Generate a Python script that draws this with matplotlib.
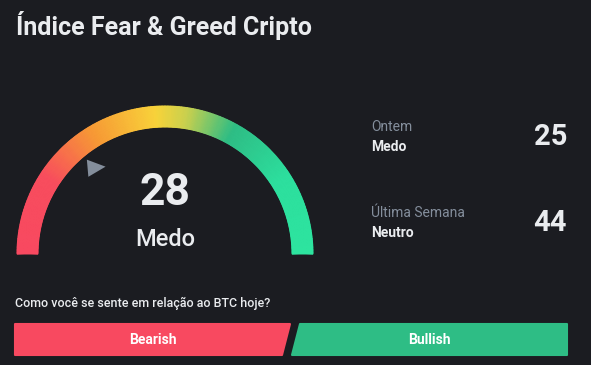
import numpy as np
import matplotlib
matplotlib.use('Agg')
import matplotlib.pyplot as plt
from matplotlib.colors import LinearSegmentedColormap
from matplotlib.patches import Polygon

# data
title = 'Índice Fear & Greed Cripto'
value_now = 28
label_now = 'Medo'
hist_titles = ['Ontem', 'Última Semana']
hist_labels = ['Medo', 'Neutro']
hist_values = [25, 44]
question = 'Como você se sente em relação ao BTC hoje?'
buttons = ['Bearish', 'Bullish']

bg = '#1b1c21'
white = '#eaecef'
gray = '#848e9c'
red = '#f84960'
green = '#2ebd85'

W, H = 591, 365
fig = plt.figure(figsize=(W / 100, H / 100), dpi=100)
fig.patch.set_facecolor(bg)
ax = fig.add_axes([0, 0, 1, 1])
ax.set_xlim(0, W)
ax.set_ylim(H, 0)
ax.axis('off')
ax.set_facecolor(bg)

font = 'Roboto'

ax.text(16, 25, title, color=white, fontsize=18, fontweight='bold',
        family=font, va='center', ha='left')

# gauge
cx, cy = 165, 254
r_out, r_in = 148, 127
cmap = LinearSegmentedColormap.from_list('fg', [
    (0.0, '#f84960'), (0.18, '#f84d5e'), (0.33, '#f79a35'),
    (0.48, '#f8d33a'), (0.55, '#c9d04f'), (0.66, '#2ebd85'),
    (0.82, '#2ddf9e'), (1.0, '#2de49f')])
t = np.linspace(0, 1, 300)
ang = np.pi * (1 - t)
rr = np.array([r_in, r_out])
A, R = np.meshgrid(ang, rr)
X = cx + R * np.cos(A)
Y = cy - R * np.sin(A)
C = np.tile(t, (2, 1))
ax.pcolormesh(X, Y, C, cmap=cmap, shading='gouraud', vmin=0, vmax=1)

# pointer
th = np.pi * (1 - value_now / 100)
px, py = cx + 112 * np.cos(th), cy - 112 * np.sin(th)
tip = np.deg2rad(-5)
pts = []
for da, dist in [(0, 12), (125, 10.5), (-125, 10.5)]:
    a = tip + np.deg2rad(da)
    pts.append((px + dist * np.cos(a), py + dist * np.sin(a)))
ax.add_patch(Polygon(pts, closed=True, color=gray, lw=0))

ax.text(cx, 193, str(value_now), color=white, fontsize=32, fontweight='bold',
        family=font, ha='center', va='center')
ax.text(cx, 239, label_now, color=white, fontsize=17, fontweight='medium',
        family=font, ha='center', va='center')

# history
for i, (ht, hl, hv) in enumerate(zip(hist_titles, hist_labels, hist_values)):
    y0 = 127 + i * 86
    ax.text(371, y0, ht, color=gray, fontsize=10, family=font,
            ha='left', va='center')
    ax.text(371, y0 + 20, hl, color=white, fontsize=10, fontweight='bold',
            family=font, ha='left', va='center')
    ax.text(567, y0 + 10, str(hv), color=white, fontsize=21, fontweight='bold',
            family=font, ha='right', va='center')

ax.text(15, 303, question, color=white, fontsize=9, fontweight='medium',
        family=font, ha='left', va='center')

# buttons
top, bot = 324, 355
ax.add_patch(Polygon([(15, top), (290, top), (282, bot), (15, bot)],
                     closed=True, fc=red, ec=red, lw=1.5, joinstyle='round'))
ax.add_patch(Polygon([(300, top), (567, top), (567, bot), (292, bot)],
                     closed=True, fc=green, ec=green, lw=1.5, joinstyle='round'))
ax.text(153, 339.5, buttons[0], color='white', fontsize=10, fontweight='bold',
        family=font, ha='center', va='center')
ax.text(429, 339.5, buttons[1], color='white', fontsize=10, fontweight='bold',
        family=font, ha='center', va='center')

fig.savefig('out.png', dpi=100, facecolor=bg)
